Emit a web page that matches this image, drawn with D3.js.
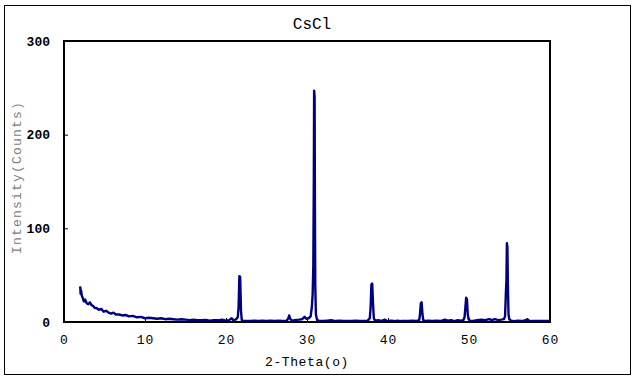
<!DOCTYPE html>
<html>
<head>
<meta charset="utf-8">
<script src="https://cdn.jsdelivr.net/npm/d3@7"></script>
<style>
  body { margin: 0; background: #fff; }
  svg { display: block; }
</style>
</head>
<body>
<div id="chart"></div>
<script>
// chart texts and ticks
var chartTitle = "CsCl";
var xTitle = "2-Theta(o)";
var yTitle = "Intensity(Counts)";
var xTicks = [0, 10, 20, 30, 40, 50, 60];
var yTicks = [0, 100, 200, 300];

// 2-theta (degrees)
var twoTheta = [
  2.0, 2.05, 2.1, 2.2, 2.3, 2.45, 2.6, 2.8, 3.0, 3.2, 3.4, 3.6, 3.8, 4.0, 4.3, 4.6, 4.9, 5.2, 5.5, 5.8,
  6.1, 6.4, 6.8, 7.2, 7.6, 8.0, 8.5, 9.0, 9.5, 10.0, 10.5, 11.0, 11.5, 12.0, 12.5, 13.0, 13.5, 14.0, 14.5, 15.0,
  15.5, 16.0, 16.5, 17.0, 17.5, 18.0, 18.5, 19.0, 19.5, 20.0, 20.4, 20.7, 20.9, 21.2, 21.45, 21.55, 21.65, 21.75, 21.85, 21.95,
  22.2, 22.6, 23.0, 23.5, 24.0, 24.5, 25.0, 25.5, 26.0, 26.5, 27.0, 27.5, 27.7, 27.8, 27.9, 28.1, 28.5, 29.0, 29.4, 29.7,
  29.9, 30.2, 30.45, 30.6, 30.7, 30.78, 30.84, 30.88, 30.94, 30.98, 31.02, 31.1, 31.25, 31.5, 32.0, 32.5, 33.0, 33.5, 34.0, 34.5,
  35.0, 35.5, 36.0, 36.5, 37.0, 37.5, 37.75, 37.85, 37.95, 38.05, 38.15, 38.25, 38.4, 38.8, 39.2, 39.6, 39.9, 40.3, 40.8, 41.2,
  41.6, 42.0, 42.5, 43.0, 43.5, 43.85, 43.95, 44.05, 44.15, 44.25, 44.35, 44.6, 45.0, 45.5, 46.0, 46.5, 47.0, 47.4, 47.8, 48.2,
  48.6, 49.0, 49.3, 49.45, 49.55, 49.65, 49.75, 49.85, 49.95, 50.1, 50.5, 51.0, 51.5, 52.0, 52.5, 52.8, 53.2, 53.6, 54.0, 54.3,
  54.45, 54.55, 54.62, 54.68, 54.74, 54.8, 54.88, 54.98, 55.2, 55.6, 56.0, 56.5, 57.0, 57.2, 57.4, 57.8, 58.3, 58.8, 59.3, 60.0
];

// counts
var counts = [
  38, 30, 34, 28, 26, 22, 24, 20, 19, 21, 18, 17, 15, 15, 13, 14, 11, 12, 10, 9,
  10, 8, 8, 7, 7.5, 6, 6.5, 5, 5.5, 4, 4.5, 4, 3.5, 4, 3, 3.5, 3, 2.5, 3, 2.5,
  2, 2.5, 2, 1.8, 2.2, 1.5, 2, 1.8, 2.5, 1.5, 2, 4, 2, 2.5, 5, 15, 49, 48, 12, 2,
  1, 1.2, 1, 1.5, 1, 1.4, 1, 1.5, 1, 1.3, 1.2, 1.5, 4, 7, 4, 1.5, 2, 2.5, 3, 5.5,
  3.5, 4, 6, 16, 30, 60, 150, 247, 240, 120, 40, 8, 2, 1.5, 1, 1.5, 2, 1, 1.3, 1,
  1.2, 1, 1.5, 1, 1.2, 1.5, 4, 15, 40, 41, 20, 4, 1.5, 2, 1.2, 2.5, 1, 1.5, 1, 1.5,
  1, 1.2, 1, 1.5, 1, 2, 8, 20, 21, 9, 2, 1, 1.3, 1, 1.5, 1, 2.5, 1.5, 2, 1,
  2, 1.5, 1.8, 5, 15, 26, 24, 8, 3, 1.5, 1.2, 2, 2.5, 2, 3, 2, 3, 2, 2.5, 3,
  6, 30, 45, 84, 80, 40, 8, 3, 1.5, 1, 1.5, 1, 2, 3, 1.5, 1, 1.2, 1, 1.2, 1
];

var data = twoTheta.map(function(t, i) { return {x: t, y: counts[i]}; });

var W = 634, H = 379;
var plot = {left: 64, right: 550, top: 41, bottom: 322};

var svg = d3.select("#chart")
  .append("svg")
    .attr("width", W)
    .attr("height", H);

// outer chart frame
svg.append("rect")
  .attr("x", 4.5).attr("y", 5.5)
  .attr("width", 626).attr("height", 369)
  .attr("fill", "#fff")
  .attr("stroke", "#000")
  .attr("stroke-width", 1);

var x = d3.scaleLinear().domain([0, 60]).range([plot.left, plot.right]);
var y = d3.scaleLinear().domain([0, 300]).range([plot.bottom, plot.top]);

// X axis
var xAxis = svg.append("g")
  .attr("transform", "translate(0," + plot.bottom + ")")
  .call(d3.axisBottom(x).tickValues(xTicks).tickSize(-4).tickPadding(13));
xAxis.select(".domain").remove();
xAxis.selectAll("line").attr("stroke", "#000");
xAxis.selectAll("text")
  .attr("font-family", "'Liberation Mono', monospace")
  .attr("font-size", 13)
  .attr("fill", "#000")
  .style("letter-spacing", "1px");

// Y axis
var yAxis = svg.append("g")
  .attr("transform", "translate(" + plot.left + ",0)")
  .call(d3.axisLeft(y).tickValues(yTicks).tickSize(-4).tickPadding(14));
yAxis.select(".domain").remove();
yAxis.selectAll("line").attr("stroke", "#000");
yAxis.selectAll("text")
  .attr("font-family", "'Liberation Mono', monospace")
  .attr("font-size", 13)
  .attr("font-weight", "bold")
  .attr("fill", "#000");

// the pattern
var line = d3.line()
  .x(function(d) { return x(d.x); })
  .y(function(d) { return y(d.y); });

svg.append("path")
  .datum(data)
  .attr("fill", "none")
  .attr("stroke", "#000080")
  .attr("stroke-width", 2.4)
  .attr("stroke-linejoin", "round")
  .attr("d", line);

// plot area border
svg.append("rect")
  .attr("x", plot.left).attr("y", plot.top)
  .attr("width", plot.right - plot.left)
  .attr("height", plot.bottom - plot.top)
  .attr("fill", "none")
  .attr("stroke", "#000")
  .attr("stroke-width", 2);

// titles
svg.append("text")
  .attr("x", (plot.left + plot.right) / 2 + 5)
  .attr("y", 29)
  .attr("text-anchor", "middle")
  .attr("font-family", "'Liberation Mono', monospace")
  .attr("font-size", 16)
  .attr("fill", "#000")
  .text(chartTitle);

svg.append("text")
  .attr("x", (plot.left + plot.right) / 2)
  .attr("y", 366)
  .attr("text-anchor", "middle")
  .attr("font-family", "'Liberation Mono', monospace")
  .attr("font-size", 13)
  .attr("fill", "#000")
  .style("letter-spacing", "0.6px")
  .text(xTitle);

svg.append("text")
  .attr("transform", "translate(21," + ((plot.top + plot.bottom) / 2 - 4) + ") rotate(-90)")
  .attr("text-anchor", "middle")
  .attr("font-family", "'Liberation Mono', monospace")
  .attr("font-size", 13)
  .attr("fill", "#808080")
  .style("letter-spacing", "1.2px")
  .text(yTitle);
</script>
</body>
</html>
